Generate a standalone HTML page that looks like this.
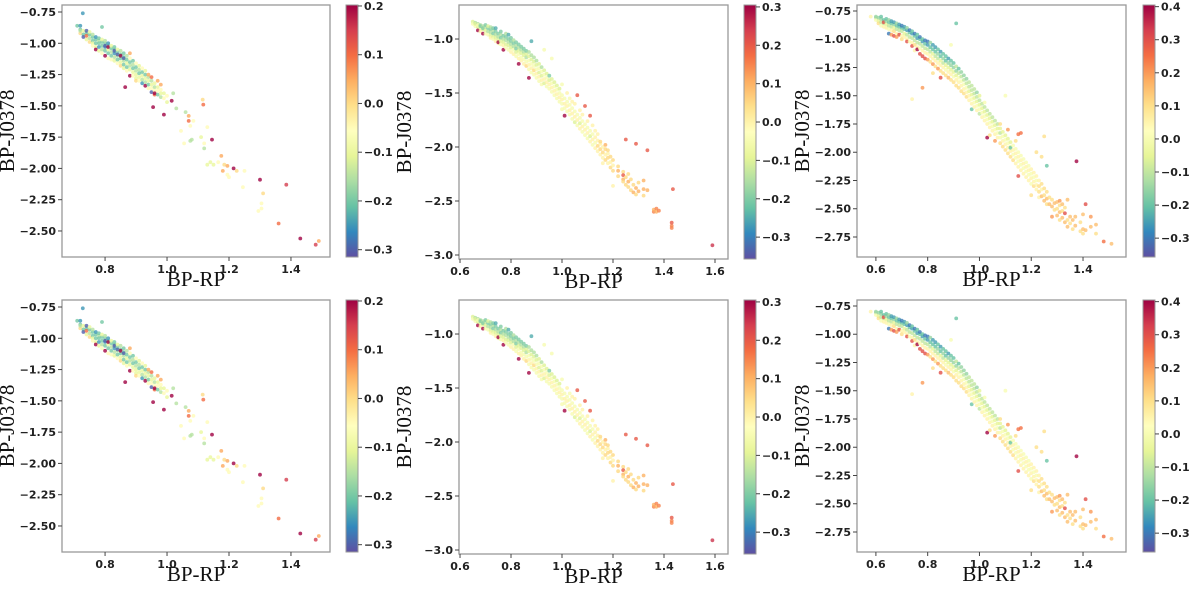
<!DOCTYPE html>
<html><head><meta charset="utf-8">
<style>
html,body{margin:0;padding:0;background:#fff;}
svg{display:block;}
.tk{font-family:"DejaVu Sans","Liberation Sans",sans-serif;font-size:11px;font-weight:bold;fill:#222;}
.al{font-family:"Liberation Serif","DejaVu Serif",serif;font-size:21px;fill:#111;}
</style></head>
<body>
<svg id="fig" width="1200" height="589" viewBox="0 0 1200 589" xmlns="http://www.w3.org/2000/svg">
<defs>
<linearGradient id="spec" x1="0" y1="1" x2="0" y2="0">
<stop offset="0" stop-color="#5e4fa2"/><stop offset="0.1" stop-color="#3288bd"/><stop offset="0.2" stop-color="#66c2a5"/><stop offset="0.3" stop-color="#abdda4"/><stop offset="0.4" stop-color="#e6f598"/><stop offset="0.5" stop-color="#ffffbf"/><stop offset="0.6" stop-color="#fee08b"/><stop offset="0.7" stop-color="#fdae61"/><stop offset="0.8" stop-color="#f46d43"/><stop offset="0.9" stop-color="#d53e4f"/><stop offset="1" stop-color="#9e0142"/>
</linearGradient>
</defs>
</svg>
<script>
// ---- data: flat triples [BP-RP, BP-J0378, colour value] ----
const p1 = [
0.728,-0.76,-0.25,0.71,-0.86,-0.2,0.72,-0.86,-0.25,0.79,-0.87,-0.2,0.865,-1.35,0.2,0.955,-1.51,0.2,0.99,-1.57,0.2,1.015,-1.46,0.2,1.02,-1.4,-0.15,1.03,-1.52,-0.15,1.06,-1.55,-0.15,1.07,-1.58,0.05,1.07,-1.62,0.1,1.085,-1.62,-0.05,1.075,-1.66,-0.05,1.045,-1.7,-0.05,1.055,-1.8,-0.05,1.08,-1.77,-0.15,1.075,-1.78,-0.15,1.115,-1.45,0,1.117,-1.49,0.1,1.13,-1.67,-0.05,1.145,-1.77,0.2,1.11,-1.75,-0.1,1.12,-1.84,-0.15,1.12,-1.8,-0.05,1.13,-1.97,-0.1,1.14,-1.95,-0.1,1.15,-1.97,-0.1,1.165,-1.95,-0.05,1.175,-1.9,0.05,1.18,-2.02,0.05,1.185,-1.97,0,1.195,-1.98,0.05,1.195,-2.05,-0.05,1.2,-2.07,-0.05,1.215,-2.0,0.2,1.225,-2.02,0,1.25,-2.02,-0.05,1.245,-2.15,-0.05,1.3,-2.09,0.2,1.31,-2.2,0,1.305,-2.28,-0.05,1.305,-2.32,-0.05,1.295,-2.34,-0.05,1.385,-2.13,0.15,1.36,-2.44,0.1,1.43,-2.56,0.2,1.48,-2.61,0.15,1.49,-2.58,0.05,
0.72,-0.89,-0.2,0.72,-0.92,0,0.72,-0.9,-0.15,0.73,-0.9,-0.1,0.73,-0.93,-0.2,0.73,-0.95,-0.3,0.74,-0.92,-0.2,0.74,-0.9,-0.3,0.74,-0.97,-0.1,0.74,-0.94,0.1,0.75,-0.93,-0.2,0.75,-0.96,-0.15,0.75,-0.99,0,0.75,-0.91,-0.1,0.76,-0.95,-0.2,0.76,-0.98,-0.2,0.76,-1.0,-0.1,0.76,-0.93,-0.15,0.76,-1.02,-0.05,0.77,-0.97,-0.2,0.77,-0.95,-0.25,0.77,-1.0,-0.2,0.77,-1.03,-0.1,0.77,-1.05,0.2,0.78,-0.98,-0.15,0.78,-1.0,-0.2,0.78,-0.96,-0.2,0.78,-1.03,-0.25,0.78,-1.06,-0.1,0.79,-0.99,-0.2,0.79,-1.02,-0.2,0.79,-1.05,-0.15,0.79,-0.97,-0.1,0.79,-1.08,-0.05,0.8,-1.0,-0.2,0.8,-1.03,-0.25,0.8,-1.06,-0.2,0.8,-0.98,-0.15,0.8,-1.1,0.2,0.8,-1.02,-0.3,0.81,-1.02,-0.2,0.81,-1.05,-0.1,0.81,-1.08,-0.2,0.81,-1.0,-0.25,0.81,-1.12,-0.05,0.81,-1.03,0.2,0.82,-1.04,-0.2,0.82,-1.07,-0.15,0.82,-1.1,-0.2,0.82,-1.02,-0.1,0.82,-1.13,-0.05,0.83,-1.05,-0.2,0.83,-1.08,-0.25,0.83,-1.11,-0.15,0.83,-1.03,-0.2,0.83,-1.14,-0.1,0.83,-1.06,-0.3,0.84,-1.07,-0.2,0.84,-1.1,-0.15,0.84,-1.13,-0.2,0.84,-1.05,-0.1,0.84,-1.16,-0.05,0.84,-1.09,-0.3,0.85,-1.09,-0.2,0.85,-1.12,-0.2,0.85,-1.15,-0.1,0.85,-1.06,-0.15,0.85,-1.18,0,0.85,-1.1,0.2,0.86,-1.11,-0.2,0.86,-1.14,-0.15,0.86,-1.17,-0.2,0.86,-1.08,-0.2,0.86,-1.2,-0.1,0.86,-1.12,-0.3,0.87,-1.13,-0.2,0.87,-1.16,-0.1,0.87,-1.19,-0.2,0.87,-1.1,-0.15,0.87,-1.22,-0.05,0.88,-1.15,-0.2,0.88,-1.18,-0.15,0.88,-1.21,-0.1,0.88,-1.12,-0.05,0.88,-1.26,0.2,0.88,-1.08,0.05,0.89,-1.17,-0.15,0.89,-1.2,-0.2,0.89,-1.23,-0.1,0.89,-1.14,-0.2,0.89,-1.26,-0.05,0.9,-1.19,-0.2,0.9,-1.22,-0.15,0.9,-1.25,-0.1,0.9,-1.16,-0.05,0.9,-1.28,-0.1,0.9,-1.3,0,0.91,-1.21,-0.15,0.91,-1.24,-0.2,0.91,-1.27,-0.1,0.91,-1.3,-0.05,0.91,-1.18,-0.1,0.92,-1.23,-0.2,0.92,-1.26,-0.1,0.92,-1.29,-0.15,0.92,-1.32,-0.25,0.92,-1.2,-0.05,0.93,-1.25,-0.2,0.93,-1.28,-0.1,0.93,-1.31,-0.15,0.93,-1.34,0.2,0.93,-1.22,-0.1,0.94,-1.27,-0.15,0.94,-1.3,-0.1,0.94,-1.33,-0.2,0.94,-1.36,-0.05,0.94,-1.25,0.05,0.95,-1.3,-0.15,0.95,-1.33,-0.1,0.95,-1.36,-0.05,0.95,-1.39,-0.3,0.95,-1.27,0.1,0.96,-1.32,-0.1,0.96,-1.35,-0.15,0.96,-1.38,-0.05,0.96,-1.41,0.1,0.96,-1.4,0.2,0.97,-1.35,-0.1,0.97,-1.38,-0.05,0.97,-1.41,-0.2,0.97,-1.3,0.05,0.98,-1.37,-0.05,0.98,-1.4,-0.1,0.98,-1.43,-0.15,0.98,-1.33,0.05,0.99,-1.4,-0.1,0.99,-1.44,-0.05,1.0,-1.42,-0.05,1.0,-1.47,-0.1
];
const p2 = [
0.65,-0.84,-0.1,0.65,-0.86,-0.05,0.66,-0.85,-0.15,0.66,-0.88,-0.05,0.66,-0.86,-0.1,0.67,-0.86,-0.15,0.67,-0.89,-0.1,0.67,-0.92,0.3,0.67,-0.87,-0.05,0.68,-0.87,-0.15,0.68,-0.9,-0.1,0.68,-0.88,-0.2,0.68,-0.93,0,0.69,-0.88,-0.15,0.69,-0.91,-0.1,0.69,-0.95,0.3,0.69,-0.9,-0.2,0.7,-0.89,-0.15,0.7,-0.92,-0.1,0.7,-0.95,-0.05,0.7,-0.87,-0.2,0.71,-0.9,-0.2,0.71,-0.93,-0.15,0.71,-0.96,-0.05,0.71,-0.88,-0.1,0.72,-0.91,-0.2,0.72,-0.94,-0.15,0.72,-0.97,-0.1,0.72,-0.99,0,0.72,-0.89,-0.15,0.73,-0.92,-0.15,0.73,-0.95,-0.2,0.73,-0.98,-0.1,0.73,-1.0,-0.05,0.73,-0.9,-0.2,0.74,-0.93,-0.2,0.74,-0.96,-0.15,0.74,-0.99,-0.1,0.74,-1.02,0,0.74,-0.9,-0.25,0.75,-0.95,-0.2,0.75,-0.98,-0.15,0.75,-1.01,-0.1,0.75,-1.04,-0.05,0.75,-1.03,0.3,0.76,-0.96,-0.15,0.76,-0.99,-0.2,0.76,-1.02,-0.1,0.76,-1.05,-0.05,0.76,-0.93,-0.2,0.77,-0.97,-0.2,0.77,-1.0,-0.15,0.77,-1.03,-0.1,0.77,-1.06,0,0.77,-1.1,0.3,0.78,-0.98,-0.2,0.78,-1.01,-0.15,0.78,-1.05,-0.1,0.78,-1.08,-0.05,0.78,-0.95,-0.15,0.79,-1.0,-0.2,0.79,-1.03,-0.15,0.79,-1.06,-0.1,0.79,-1.1,-0.05,0.79,-0.96,-0.25,0.8,-1.02,-0.2,0.8,-1.05,-0.15,0.8,-1.08,-0.1,0.8,-1.12,0,0.8,-0.99,-0.2,0.81,-1.04,-0.2,0.81,-1.07,-0.15,0.81,-1.1,-0.05,0.81,-1.14,0,0.81,-1.01,-0.15,0.82,-1.06,-0.15,0.82,-1.09,-0.2,0.82,-1.12,-0.1,0.82,-1.16,-0.05,0.82,-1.03,-0.2,0.83,-1.08,-0.15,0.83,-1.11,-0.1,0.83,-1.14,-0.05,0.83,-1.18,0,0.83,-1.23,0.3,0.83,-1.05,-0.2,0.84,-1.1,-0.15,0.84,-1.13,-0.1,0.84,-1.17,-0.05,0.84,-1.2,0,0.84,-1.07,-0.2,0.85,-1.12,-0.15,0.85,-1.15,-0.1,0.85,-1.19,-0.05,0.85,-1.23,0,0.85,-1.09,-0.2,0.86,-1.14,-0.1,0.86,-1.17,-0.15,0.86,-1.21,-0.05,0.86,-1.25,0.05,0.86,-1.11,-0.2,0.87,-1.16,-0.1,0.87,-1.2,-0.05,0.87,-1.24,0,0.87,-1.28,-0.05,0.87,-1.36,0.3,0.87,-1.12,-0.15,0.88,-1.19,-0.1,0.88,-1.23,-0.05,0.88,-1.27,0,0.88,-1.31,-0.05,0.88,-1.15,-0.15,0.88,-1.02,-0.25,0.89,-1.21,-0.1,0.89,-1.25,-0.05,0.89,-1.29,0.05,0.89,-1.33,-0.05,0.89,-1.17,-0.15,0.9,-1.24,-0.1,0.9,-1.28,-0.05,0.9,-1.32,0,0.9,-1.36,-0.05,0.9,-1.2,-0.15,0.91,-1.27,-0.05,0.91,-1.31,-0.1,0.91,-1.35,0,0.91,-1.39,-0.05,0.91,-1.23,-0.1,0.92,-1.3,-0.05,0.92,-1.34,-0.1,0.92,-1.38,0,0.92,-1.42,-0.05,0.92,-1.26,-0.15,0.93,-1.33,-0.05,0.93,-1.37,0,0.93,-1.41,-0.1,0.93,-1.29,-0.1,0.93,-1.1,-0.05,0.94,-1.36,-0.05,0.94,-1.4,0,0.94,-1.44,-0.05,0.94,-1.32,-0.1,0.95,-1.38,-0.1,0.95,-1.42,0,0.95,-1.46,-0.05,0.95,-1.34,-0.2,0.96,-1.41,-0.05,0.96,-1.45,0,0.96,-1.49,-0.05,0.96,-1.37,-0.1,0.96,-1.18,-0.05,0.97,-1.44,-0.05,0.97,-1.48,0,0.97,-1.52,-0.05,0.97,-1.4,-0.1,0.98,-1.47,-0.05,0.98,-1.51,0,0.98,-1.55,-0.05,0.98,-1.43,-0.1,0.99,-1.5,-0.05,0.99,-1.54,0,0.99,-1.58,-0.05,0.99,-1.46,-0.1,1.0,-1.52,-0.05,1.0,-1.56,0,1.0,-1.6,-0.05,1.0,-1.65,-0.05,1.0,-1.42,-0.05,1.01,-1.55,-0.05,1.01,-1.6,0,1.01,-1.64,-0.05,1.01,-1.71,0.3,1.02,-1.58,-0.05,1.02,-1.62,0,1.02,-1.67,-0.05,1.02,-1.5,0,1.03,-1.61,-0.05,1.03,-1.66,0,1.03,-1.7,-0.05,1.03,-1.55,-0.05,1.04,-1.64,-0.05,1.04,-1.69,0,1.04,-1.74,-0.05,1.04,-1.58,0,1.05,-1.67,-0.05,1.05,-1.72,0,1.05,-1.77,-0.1,1.05,-1.6,0,1.06,-1.7,-0.05,1.06,-1.75,0,1.06,-1.8,-0.05,1.06,-1.52,0.2,1.07,-1.73,-0.05,1.07,-1.78,-0.1,1.07,-1.83,0,1.07,-1.66,0,1.08,-1.76,-0.05,1.08,-1.81,0,1.08,-1.86,-0.05,1.08,-1.7,0,1.09,-1.79,-0.05,1.09,-1.84,0,1.09,-1.89,-0.05,1.09,-1.62,0.2,1.1,-1.82,-0.05,1.1,-1.87,0,1.1,-1.92,-0.05,1.1,-1.76,0,1.11,-1.85,-0.05,1.11,-1.9,-0.1,1.11,-1.95,0,1.11,-1.71,0.2,1.12,-1.88,-0.05,1.12,-1.93,0,1.12,-1.98,-0.05,1.12,-1.8,0,1.13,-1.91,0,1.13,-1.96,-0.05,1.13,-2.01,0,1.13,-1.85,0,1.14,-1.94,0,1.14,-1.99,0.05,1.14,-2.04,0,1.14,-1.88,0,1.15,-1.97,0,1.15,-2.02,0.05,1.15,-2.07,0,1.15,-1.95,0.05,1.16,-2.0,0,1.16,-2.05,0.05,1.16,-2.1,0,1.16,-2.15,0,1.17,-2.02,0.05,1.17,-2.07,0,1.17,-2.12,0.05,1.17,-1.98,0.1,1.18,-2.06,0,1.18,-2.1,0.05,1.18,-2.15,0,1.18,-2.03,0.05,1.19,-2.09,0.05,1.19,-2.14,0,1.19,-2.19,0.05,1.2,-2.12,0.05,1.2,-2.17,0,1.2,-2.22,0.05,1.2,-2.36,0,1.22,-2.18,0.05,1.22,-2.22,0.1,1.22,-2.27,0.05,1.24,-2.23,0.05,1.24,-2.3,0.1,1.24,-2.32,0.05,1.24,-2.26,0.2,1.25,-1.93,0.2,1.25,-2.35,0.05,1.25,-2.28,0.05,1.26,-2.32,0.1,1.26,-2.37,0.05,1.26,-2.25,0.05,1.27,-2.4,0.05,1.27,-2.3,0.05,1.28,-2.42,0.1,1.28,-2.35,0.05,1.29,-1.97,0.2,1.29,-2.38,0.1,1.29,-2.44,0.05,1.3,-2.33,0.05,1.3,-2.41,0.1,1.32,-2.31,0.1,1.32,-2.39,0.1,1.32,-2.45,0.05,1.335,-2.03,0.2,1.335,-2.4,0.1,1.36,-2.6,0.15,1.36,-2.58,0.1,1.37,-2.57,0.15,1.37,-2.6,0.1,1.38,-2.59,0.15,1.43,-2.73,0.15,1.43,-2.75,0.15,1.43,-2.7,0.2,1.435,-2.39,0.2,1.59,-2.91,0.25
];
const p3 = [
0.58,-0.8,0.05,0.6,-0.81,-0.1,0.6,-0.83,0,0.6,-0.8,-0.15,0.61,-0.81,-0.15,0.61,-0.84,-0.05,0.61,-0.86,0.1,0.62,-0.82,-0.15,0.62,-0.85,-0.1,0.62,-0.88,0,0.62,-0.8,-0.2,0.63,-0.83,-0.2,0.63,-0.86,-0.1,0.63,-0.89,0.05,0.63,-0.85,0.3,0.64,-0.84,-0.15,0.64,-0.87,-0.05,0.64,-0.9,0.05,0.64,-0.82,-0.2,0.65,-0.85,-0.2,0.65,-0.88,-0.1,0.65,-0.91,0,0.65,-0.95,-0.3,0.65,-0.83,-0.15,0.66,-0.86,-0.2,0.66,-0.89,-0.1,0.66,-0.92,0.05,0.66,-0.84,-0.25,0.66,-0.96,0.2,0.67,-0.87,-0.15,0.67,-0.9,-0.05,0.67,-0.93,0.1,0.67,-0.85,-0.25,0.67,-0.97,0.3,0.68,-0.88,-0.2,0.68,-0.91,-0.1,0.68,-0.95,0.05,0.68,-0.86,-0.15,0.68,-0.98,0.2,0.69,-0.89,-0.2,0.69,-0.92,-0.1,0.69,-0.96,0,0.69,-0.87,-0.25,0.69,-0.96,0.3,0.7,-0.9,-0.2,0.7,-0.93,-0.1,0.7,-0.97,0.05,0.7,-0.88,-0.3,0.7,-1.0,0.1,0.71,-0.91,-0.2,0.71,-0.95,-0.05,0.71,-0.98,0.05,0.71,-0.89,-0.25,0.72,-0.92,-0.25,0.72,-0.96,-0.1,0.72,-1.0,0.05,0.72,-1.02,0.3,0.72,-0.9,-0.15,0.73,-0.94,-0.2,0.73,-0.98,-0.1,0.73,-1.02,0,0.73,-0.92,-0.3,0.74,-0.95,-0.25,0.74,-0.99,-0.1,0.74,-1.03,0.05,0.74,-1.06,0.3,0.74,-0.93,-0.2,0.74,-1.53,0.05,0.75,-0.97,-0.2,0.75,-1.01,-0.1,0.75,-1.05,0.1,0.75,-0.95,-0.3,0.75,-1.1,0.05,0.76,-0.99,-0.25,0.76,-1.03,-0.1,0.76,-1.07,0.05,0.76,-1.09,0.4,0.76,-0.96,-0.2,0.77,-1.0,-0.2,0.77,-1.04,-0.1,0.77,-1.08,0,0.77,-1.13,0.3,0.77,-0.98,-0.3,0.78,-1.02,-0.25,0.78,-1.06,-0.1,0.78,-1.1,0.05,0.78,-1.15,0.3,0.78,-1.0,-0.2,0.78,-1.43,0.2,0.79,-1.04,-0.2,0.79,-1.08,-0.1,0.79,-1.12,0.05,0.79,-1.17,0.3,0.79,-1.01,-0.3,0.8,-1.05,-0.25,0.8,-1.09,-0.1,0.8,-1.13,0.05,0.8,-1.18,0.2,0.8,-1.02,-0.3,0.81,-1.07,-0.2,0.81,-1.11,-0.1,0.81,-1.15,0.05,0.81,-1.2,0.1,0.81,-1.03,-0.15,0.82,-1.09,-0.2,0.82,-1.13,-0.05,0.82,-1.17,0.05,0.82,-1.22,0.2,0.82,-1.05,-0.25,0.82,-1.3,0.1,0.83,-1.11,-0.2,0.83,-1.15,-0.1,0.83,-1.19,0.05,0.83,-1.24,0.1,0.83,-1.07,-0.25,0.84,-1.13,-0.15,0.84,-1.17,-0.1,0.84,-1.21,0.05,0.84,-1.26,0.2,0.84,-1.09,-0.2,0.85,-1.15,-0.2,0.85,-1.19,-0.05,0.85,-1.23,0.05,0.85,-1.28,0.1,0.85,-1.11,-0.25,0.85,-1.34,0.3,0.86,-1.17,-0.15,0.86,-1.21,-0.1,0.86,-1.25,0.05,0.86,-1.3,0.1,0.86,-1.13,-0.2,0.87,-1.19,-0.2,0.87,-1.23,-0.05,0.87,-1.27,0,0.87,-1.32,0.1,0.87,-1.15,-0.2,0.88,-1.21,-0.15,0.88,-1.25,-0.05,0.88,-1.29,0.05,0.88,-1.34,0.15,0.88,-1.17,-0.25,0.89,-1.23,-0.15,0.89,-1.27,-0.05,0.89,-1.31,0.05,0.89,-1.36,0.1,0.89,-1.19,-0.2,0.89,-1.05,0,0.9,-1.25,-0.15,0.9,-1.29,-0.05,0.9,-1.33,0,0.9,-1.38,0.1,0.9,-1.21,-0.2,0.91,-1.28,-0.15,0.91,-0.86,-0.2,0.91,-1.32,-0.05,0.91,-1.36,0.05,0.91,-1.41,0.1,0.91,-1.24,-0.1,0.92,-1.3,-0.1,0.92,-1.34,0,0.92,-1.38,0.05,0.92,-1.43,0.1,0.92,-1.26,-0.2,0.93,-1.33,-0.1,0.93,-1.37,0,0.93,-1.41,0.05,0.93,-1.46,0.1,0.93,-1.29,-0.15,0.94,-1.36,-0.1,0.94,-1.4,0,0.94,-1.44,0.05,0.94,-1.48,0.1,0.94,-1.32,-0.15,0.95,-1.39,-0.1,0.95,-1.43,0,0.95,-1.47,0.05,0.95,-1.51,0.1,0.95,-1.35,-0.15,0.96,-1.42,-0.1,0.96,-1.46,-0.05,0.96,-1.5,0.05,0.96,-1.54,0.05,0.96,-1.38,-0.1,0.97,-1.45,-0.1,0.97,-1.49,-0.05,0.97,-1.53,0,0.97,-1.57,0.05,0.97,-1.41,-0.1,0.97,-1.62,-0.2,0.98,-1.48,-0.1,0.98,-1.52,-0.05,0.98,-1.56,0,0.98,-1.6,0.05,0.98,-1.44,-0.1,0.99,-1.51,-0.1,0.99,-1.55,-0.05,0.99,-1.59,0,0.99,-1.63,0.05,0.99,-1.47,-0.15,1.0,-1.54,-0.1,1.0,-1.58,-0.05,1.0,-1.62,0,1.0,-1.66,-0.1,1.0,-1.5,-0.05,1.01,-1.57,-0.1,1.01,-1.61,-0.05,1.01,-1.65,0,1.01,-1.69,0.05,1.02,-1.6,-0.1,1.02,-1.64,-0.05,1.02,-1.68,0,1.02,-1.72,0.05,1.02,-1.56,0,1.03,-1.63,-0.1,1.03,-1.67,-0.05,1.03,-1.71,0,1.03,-1.75,0.05,1.03,-1.87,0.4,1.04,-1.66,-0.1,1.04,-1.7,-0.05,1.04,-1.74,0,1.04,-1.78,0.05,1.04,-1.85,0.1,1.05,-1.69,-0.1,1.05,-1.73,-0.05,1.05,-1.77,0,1.05,-1.81,0.05,1.06,-1.72,-0.1,1.06,-1.76,-0.05,1.06,-1.8,0,1.06,-1.84,0.05,1.06,-1.9,0.2,1.07,-1.75,-0.1,1.07,-1.79,-0.05,1.07,-1.83,0,1.07,-1.87,0.05,1.08,-1.79,-0.05,1.08,-1.83,-0.1,1.08,-1.87,0,1.08,-1.92,0.1,1.08,-1.75,0.1,1.09,-1.82,-0.05,1.09,-1.86,0,1.09,-1.9,0.05,1.09,-1.95,0.1,1.1,-1.85,-0.05,1.1,-1.89,0,1.1,-1.93,0.05,1.1,-1.98,0.1,1.1,-1.5,0,1.11,-1.88,-0.05,1.11,-1.92,0,1.11,-1.96,0.05,1.11,-2.01,0.1,1.11,-1.8,0.2,1.12,-1.91,-0.05,1.12,-1.95,0,1.12,-1.99,0.05,1.12,-2.04,0.1,1.12,-1.96,-0.2,1.13,-1.94,0,1.13,-1.98,0.05,1.13,-2.02,0,1.13,-2.07,0.1,1.14,-1.97,0,1.14,-2.01,0.05,1.14,-2.05,0,1.14,-2.1,0.05,1.14,-1.9,0.1,1.15,-2.0,0,1.15,-2.04,0.05,1.15,-2.08,0,1.15,-2.13,0.05,1.15,-1.84,0.25,1.15,-2.21,0.3,1.16,-2.03,0,1.16,-2.07,0.05,1.16,-2.11,0,1.16,-2.16,0.05,1.16,-1.83,0.25,1.17,-2.06,0,1.17,-2.1,0.05,1.17,-2.14,0,1.17,-2.19,0.05,1.18,-2.09,0,1.18,-2.13,0.05,1.18,-2.17,0,1.18,-2.22,0.05,1.19,-2.12,0,1.19,-2.16,0.05,1.19,-2.2,0,1.19,-2.25,0.05,1.2,-2.15,0.05,1.2,-2.19,0,1.2,-2.23,0.05,1.2,-2.28,0,1.2,-2.38,0.1,1.21,-2.18,0.05,1.21,-2.22,0,1.21,-2.26,0.05,1.21,-2.3,0.1,1.22,-2.21,0.05,1.22,-2.25,0,1.22,-2.29,0.05,1.22,-2.33,0.05,1.22,-2.0,0.1,1.23,-2.25,0.05,1.23,-2.3,0.1,1.23,-2.35,0.1,1.23,-2.4,0.05,1.24,-2.28,0.1,1.24,-2.33,0.05,1.24,-2.39,0.15,1.24,-2.04,0.1,1.25,-2.32,0.1,1.25,-2.38,0.1,1.25,-2.43,0.15,1.25,-1.86,0.1,1.26,-2.35,0.1,1.26,-2.41,0.15,1.26,-2.46,0.1,1.26,-2.12,-0.2,1.27,-2.4,0.1,1.27,-2.46,0.15,1.28,-2.42,0.1,1.28,-2.48,0.15,1.28,-2.57,0.2,1.29,-2.45,0.15,1.29,-2.51,0.1,1.3,-2.44,0.15,1.3,-2.5,0.1,1.3,-2.56,0.15,1.31,-2.43,0.2,1.31,-2.47,0.1,1.31,-2.53,0.15,1.31,-2.6,0.1,1.32,-2.46,0.15,1.32,-2.52,0.1,1.32,-2.58,0.15,1.33,-2.54,0.3,1.33,-2.62,0.15,1.33,-2.49,0.1,1.34,-2.42,0.15,1.34,-2.6,0.1,1.34,-2.66,0.15,1.35,-2.57,0.15,1.35,-2.63,0.1,1.36,-2.6,0.15,1.36,-2.68,0.1,1.37,-2.57,0.15,1.37,-2.65,0.15,1.375,-2.08,0.4,1.39,-2.62,0.1,1.39,-2.7,0.1,1.4,-2.68,0.15,1.4,-2.72,0.1,1.4,-2.55,0.15,1.41,-2.46,0.3,1.41,-2.69,0.15,1.43,-2.57,0.2,1.43,-2.66,0.15,1.45,-2.64,0.15,1.45,-2.72,0.1,1.48,-2.79,0.25,1.51,-2.81,0.15
];
const xt1 = [0.8,1.0,1.2,1.4], yt1 = [-0.75,-1.0,-1.25,-1.5,-1.75,-2.0,-2.25,-2.5], ct1 = [-0.3,-0.2,-0.1,0.0,0.1,0.2];
const xt2 = [0.6,0.8,1.0,1.2,1.4,1.6], yt2 = [-1.0,-1.5,-2.0,-2.5,-3.0], ct2 = [-0.3,-0.2,-0.1,0.0,0.1,0.2,0.3];
const xt3 = [0.6,0.8,1.0,1.2,1.4], yt3 = [-0.75,-1.0,-1.25,-1.5,-1.75,-2.0,-2.25,-2.5,-2.75], ct3 = [-0.3,-0.2,-0.1,0.0,0.1,0.2,0.3,0.4];

const NS='http://www.w3.org/2000/svg';
const svg=document.getElementById('fig');
const stops=['#5e4fa2','#3288bd','#66c2a5','#abdda4','#e6f598','#ffffbf','#fee08b','#fdae61','#f46d43','#d53e4f','#9e0142'];
function hex(h){return [parseInt(h.slice(1,3),16),parseInt(h.slice(3,5),16),parseInt(h.slice(5,7),16)];}
function cmap(t){t=Math.max(0,Math.min(1,t));const f=t*10,i=Math.min(9,Math.floor(f)),r=f-i;const a=hex(stops[i]),b=hex(stops[i+1]);return 'rgb('+a.map((v,k)=>Math.round(v+(b[k]-v)*r)).join(',')+')';}
function el(tag,attrs,parent){const e=document.createElementNS(NS,tag);for(const k in attrs)e.setAttribute(k,attrs[k]);(parent||svg).appendChild(e);return e;}
function fmt(v,d){const s=Math.abs(v).toFixed(d);return v<0?'\u2212'+s:s;}

function panel(cfg,oy,tag){
  const g=el('g',{});
  
  
  const T=cfg.T+oy,B=cfg.B+oy;
  const sx=v=>cfg.L+(v-cfg.x0)/(cfg.x1-cfg.x0)*(cfg.R-cfg.L);
  const sy=v=>T+(v-cfg.y0)/(cfg.y1-cfg.y0)*(B-T);
  const sc=v=>B-(v-cfg.c0)/(cfg.c1-cfg.c0)*(B-T);
  const pts=el('g',{},g);
  
  
  const d=cfg.data;
  for(let i=0;i<d.length;i+=3){
    const c=el('circle',{cx:sx(d[i]).toFixed(1),cy:sy(d[i+1]).toFixed(1),r:1.9,fill:cmap((d[i+2]-cfg.c0)/(cfg.c1-cfg.c0)),'fill-opacity':0.8},pts);
    
    
  }
  const fr=el('rect',{x:cfg.L,y:T,width:cfg.R-cfg.L,height:B-T,fill:'none',stroke:'#999','stroke-width':1.3},g);
  
  
  cfg.xt.forEach(v=>{const x=sx(v);el('line',{x1:x,x2:x,y1:B,y2:B+4,stroke:'#444'},g);
    const t=el('text',{x:x,y:B+16,'text-anchor':'middle',class:'tk'},g);t.textContent=v.toFixed(1);
    
    });
  cfg.yt.forEach(v=>{const y=sy(v);el('line',{x1:cfg.L-4,x2:cfg.L,y1:y,y2:y,stroke:'#444'},g);
    const t=el('text',{x:cfg.L-6,y:y+4,'text-anchor':'end',class:'tk'},g);t.textContent=fmt(v,cfg.yd);
    
    });
  const xl=el('text',{x:(cfg.L+cfg.R)/2,y:B+29,'text-anchor':'middle',class:'al'},g);xl.textContent='BP-RP';
  
  
  const yx=cfg.L-48,ym=(T+B)/2;
  const yl=el('text',{x:yx,y:ym,'text-anchor':'middle',class:'al',transform:'rotate(-90 '+yx+' '+ym+')'},g);yl.textContent='BP-J0378';
  
  
  const cb=el('rect',{x:cfg.cx,y:T,width:12,height:B-T,fill:'url(#spec)',stroke:'#999','stroke-width':1},g);
  
  
  cfg.ct.forEach(v=>{const y=sc(v);el('line',{x1:cfg.cx+12,x2:cfg.cx+16,y1:y,y2:y,stroke:'#444'},g);
    const t=el('text',{x:cfg.cx+18,y:y+4,class:'tk'},g);t.textContent=fmt(v,1);
    
    });
}
const cols=[
 {L:62,R:330,T:5,B:257,x0:0.661,x1:1.526,y0:-0.694,y1:-2.708,cx:346,c0:-0.315,c1:0.202,xt:xt1,yt:yt1,ct:ct1,yd:2,data:p1},
 {L:459,R:728,T:5,B:259,x0:0.596,x1:1.651,y0:-0.685,y1:-3.037,cx:744,c0:-0.357,c1:0.305,xt:xt2,yt:yt2,ct:ct2,yd:1,data:p2},
 {L:857,R:1126,T:5,B:257,x0:0.527,x1:1.566,y0:-0.697,y1:-2.927,cx:1143,c0:-0.357,c1:0.405,xt:xt3,yt:yt3,ct:ct3,yd:2,data:p3}
];
cols.forEach((c,i)=>{panel(c,0,'top-'+(i+1));panel(c,295,'bottom-'+(i+1));});
</script>
</body></html>
